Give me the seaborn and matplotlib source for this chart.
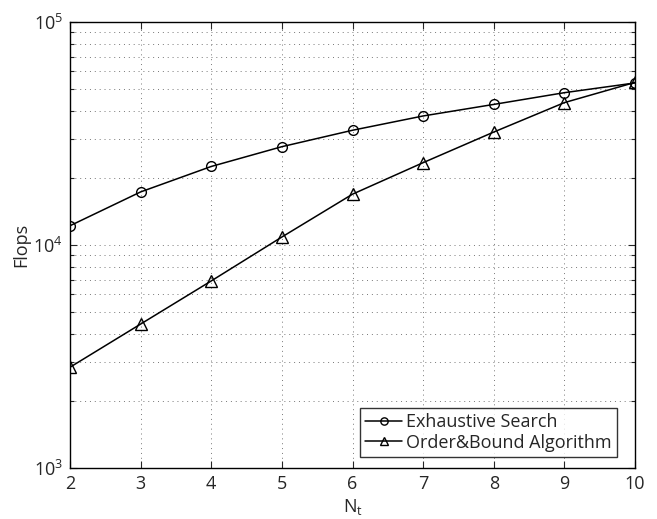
import matplotlib
matplotlib.use("Agg")
import matplotlib.pyplot as plt
import seaborn as sns
import pandas as pd
import numpy as np
from matplotlib.ticker import LogLocator, NullFormatter, FixedLocator

nt = [2, 3, 4, 5, 6, 7, 8, 9, 10]
exhaustive = [12200, 17300, 22500, 27600, 32700, 37900, 42700, 48200, 53300]
order_bound = [2830, 4420, 6900, 10860, 16900, 23400, 32100, 43500, 53600]
labels = ["Exhaustive Search", "Order&Bound Algorithm"]
xticks = [2, 3, 4, 5, 6, 7, 8, 9, 10]

sns.set_style("ticks")
plt.rcParams['font.family'] = ['Open Sans', 'DejaVu Sans']
plt.rcParams['mathtext.fontset'] = 'custom'
plt.rcParams['mathtext.rm'] = 'Open Sans'
plt.rcParams['mathtext.it'] = 'Open Sans'

fig = plt.figure(figsize=(6.57, 5.19), dpi=100)
ax = fig.add_axes([70/657, 1 - 468/519, (635-70)/657, (468-22)/519])

df1 = pd.DataFrame({"Nt": nt, "Flops": exhaustive})
df2 = pd.DataFrame({"Nt": nt, "Flops": order_bound})
sns.lineplot(data=df1, x="Nt", y="Flops", ax=ax, color="black", lw=1.1,
             marker="o", markersize=7, markerfacecolor="none",
             markeredgecolor="black", markeredgewidth=1.0, label=labels[0])
sns.lineplot(data=df2, x="Nt", y="Flops", ax=ax, color="black", lw=1.1,
             marker="^", markersize=8, markerfacecolor="none",
             markeredgecolor="black", markeredgewidth=1.0, label=labels[1])

ax.set_yscale("log")
ax.set_xlim(2, 10)
ax.set_ylim(1e3, 1e5)
ax.xaxis.set_major_locator(FixedLocator(xticks))
ax.yaxis.set_major_locator(LogLocator(base=10, numticks=10))
ax.yaxis.set_minor_locator(LogLocator(base=10, subs=np.arange(2, 10), numticks=20))
ax.yaxis.set_minor_formatter(NullFormatter())

ax.grid(which="major", axis="both", linestyle=(0, (1, 4)), color="#777777", lw=0.7)
ax.grid(which="minor", axis="y", linestyle=(0, (1, 4)), color="#777777", lw=0.7)

ax.tick_params(which="both", direction="in", top=True, right=True, labelsize=13, width=0.8)
ax.tick_params(which="major", length=5, pad=5)
ax.tick_params(which="minor", length=3)
for s in ax.spines.values():
    s.set_linewidth(1.0)
    s.set_color("black")

ax.set_xlabel("N$_\\mathregular{t}$", fontsize=13, labelpad=3)
ax.set_ylabel("Flops", fontsize=13, labelpad=2)

leg = ax.legend(loc="lower right", bbox_to_anchor=(0.978, 0.012), fontsize=13,
                frameon=True, fancybox=False, edgecolor="black",
                handlelength=2.0, handletextpad=0.25, borderpad=0.3,
                labelspacing=0.15, borderaxespad=0.3, markerscale=0.75)
leg.get_frame().set_linewidth(1.0)

fig.savefig("out.png", dpi=100)
